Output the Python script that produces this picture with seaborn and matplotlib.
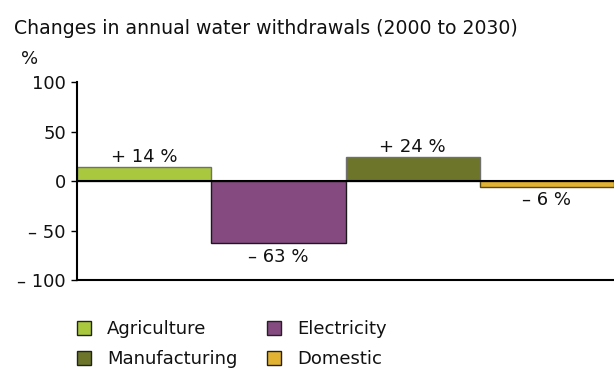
import matplotlib
matplotlib.use("Agg")
import matplotlib.pyplot as plt
import matplotlib.transforms as mtransforms
from matplotlib.patches import Patch
import seaborn as sns
import pandas as pd

# Sector changes in annual water withdrawals, 2000 -> 2030 (%)
sectors = ["Agriculture", "Electricity", "Manufacturing", "Domestic"]
changes = [14, -63, 24, -6]
bar_labels = ["+ 14 %", "\u2013 63 %", "+ 24 %", "\u2013 6 %"]
fill_colors = ["#A9C83D", "#854B80", "#6C7529", "#E2B232"]
edge_colors = ["#707070", "#1a1a1a", "#707070", "#5a4a10"]
y_ticks = [-100, -50, 0, 50, 100]
y_tick_labels = ["\u2013 100", "\u2013 50", "0", "50", "100"]

FS = 13
TXT = "#111111"

sns.set_theme(style="white")
plt.rcParams["font.family"] = ["DejaVu Sans"]

df = pd.DataFrame({"sector": sectors, "change": changes})

W, H = 614, 371
fig = plt.figure(figsize=(W / 100, H / 100), dpi=100)
ax = fig.add_axes([77 / W, 1 - 280 / H, (W - 77) / W, (280 - 82) / H])

sns.barplot(data=df, x="sector", y="change", hue="sector",
            palette=dict(zip(sectors, fill_colors)), width=1.0,
            legend=False, ax=ax, saturation=1)

for patch, ec in zip(ax.patches, edge_colors):
    patch.set_edgecolor(ec)
    patch.set_linewidth(1.0)

for i, (v, lab) in enumerate(zip(changes, bar_labels)):
    if v >= 0:
        ax.annotate(lab, (i, v), xytext=(0, 1), textcoords="offset points",
                    ha="center", va="bottom", fontsize=FS, color=TXT)
    else:
        ax.annotate(lab, (i, v), xytext=(0, -3), textcoords="offset points",
                    ha="center", va="top", fontsize=FS, color=TXT)

ax.axhline(0, color="black", linewidth=1.5, zorder=5)
ax.set_xlim(-0.5, 3.5)
ax.set_ylim(-100, 100)
ax.set_yticks(y_ticks)
ax.set_yticklabels(y_tick_labels, fontsize=FS, color=TXT)
ax.set_xticks([])
ax.set_xlabel("")
ax.set_ylabel("")

# tick labels sit a little above their tick marks
lift = mtransforms.ScaledTranslation(0, 3 / 100, fig.dpi_scale_trans)
for lbl in ax.get_yticklabels():
    lbl.set_transform(lbl.get_transform() + lift)

for side in ["top", "right"]:
    ax.spines[side].set_visible(False)
ax.spines["left"].set_color("black")
ax.spines["left"].set_linewidth(1.5)
ax.spines["bottom"].set_color("black")
ax.spines["bottom"].set_linewidth(1.5)
ax.tick_params(axis="y", left=True, length=4, width=1, color="black", pad=4)

fig.text(14 / W, 1 - 28 / H, "Changes in annual water withdrawals (2000 to 2030)",
         fontsize=13.6, color=TXT, va="center", ha="left")
fig.text(21 / W, 1 - 59 / H, "%", fontsize=FS, color=TXT,
         va="center", ha="left")

order = [0, 2, 1, 3]
handles = [Patch(facecolor=fill_colors[i], edgecolor="#222222", linewidth=1.0,
                 label=sectors[i]) for i in order]
fig.legend(handles=handles, ncol=2, loc="upper left",
           bbox_to_anchor=(77 / W, 1 - 320 / H), frameon=False,
           borderaxespad=0, borderpad=0, labelcolor=TXT,
           fontsize=FS, handlelength=0.78, handleheight=0.78,
           handletextpad=0.9, columnspacing=1.6, labelspacing=0.68)

fig.savefig("out.png", dpi=100)
